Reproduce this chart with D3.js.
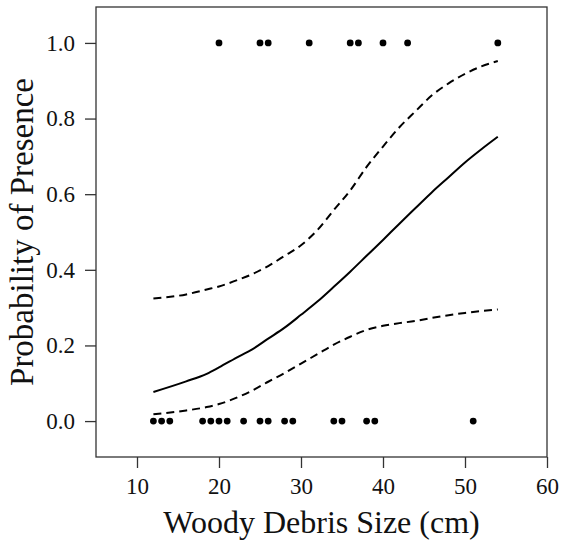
<!DOCTYPE html>
<html>
<head>
<meta charset="utf-8">
<script src="https://cdn.jsdelivr.net/npm/d3@7"></script>
<style>
  body { margin: 0; background: #fff; }
  svg text { font-family: "Liberation Serif", "Times New Roman", serif; fill: #111; }
</style>
</head>
<body>
<div id="chart"></div>
<script>
// observed presence (1) / absence (0) by debris size
var presentSize = [20, 25, 26, 31, 36, 37, 40, 43, 54];
var absentSize = [12, 13, 14, 18, 19, 20, 21, 23, 25, 26, 28, 29, 34, 35, 38, 39, 51];

// fitted curve and confidence band
var curveSize = [12, 16, 18.5, 20, 22.5, 24, 26, 28, 30, 32, 34, 36, 38, 40, 42, 44, 46, 48, 50, 52, 54];
var fitProb   = [0.077, 0.105, 0.125, 0.142, 0.172, 0.189, 0.218, 0.247, 0.281, 0.316, 0.355, 0.395, 0.437, 0.479, 0.522, 0.564, 0.606, 0.645, 0.684, 0.719, 0.752];
var upperProb = [0.324, 0.335, 0.348, 0.356, 0.375, 0.388, 0.410, 0.437, 0.465, 0.505, 0.558, 0.610, 0.672, 0.726, 0.777, 0.820, 0.862, 0.893, 0.918, 0.938, 0.952];
var lowerProb = [0.018, 0.028, 0.037, 0.045, 0.065, 0.080, 0.104, 0.127, 0.152, 0.177, 0.202, 0.223, 0.241, 0.252, 0.259, 0.265, 0.273, 0.280, 0.286, 0.291, 0.295];

var xTicks = [10, 20, 30, 40, 50, 60];
var yTicks = [0, 0.2, 0.4, 0.6, 0.8, 1.0];

var svgWidth = 561;
var svgHeight = 542;
var margin = { top: 7, right: 14, bottom: 85, left: 96 };
var width = svgWidth - margin.left - margin.right;
var height = svgHeight - margin.top - margin.bottom;

var svg = d3.select("#chart")
  .append("svg")
  .attr("width", svgWidth)
  .attr("height", svgHeight);

var chartGroup = svg.append("g")
  .attr("transform", `translate(${margin.left}, ${margin.top})`);

var xScale = d3.scaleLinear().domain([5, 60]).range([0, width]);
var yScale = d3.scaleLinear().domain([-0.095, 1.095]).range([height, 0]);

// axes
var bottomAxis = d3.axisBottom(xScale).tickValues(xTicks).tickSize(11).tickPadding(10)
  .tickFormat(d3.format("d"));
var leftAxis = d3.axisLeft(yScale).tickValues(yTicks).tickSize(11).tickPadding(10)
  .tickFormat(d3.format(".1f"));

var xAxisG = chartGroup.append("g")
  .attr("transform", `translate(0, ${height})`)
  .call(bottomAxis);
var yAxisG = chartGroup.append("g").call(leftAxis);

[xAxisG, yAxisG].forEach(function(g) {
  g.select(".domain").remove();
  g.selectAll("line").attr("stroke", "#333").attr("stroke-width", 1.3);
  g.selectAll("text").attr("font-size", "23px").attr("fill", "#111");
});

// box
chartGroup.append("rect")
  .attr("width", width)
  .attr("height", height)
  .attr("fill", "none")
  .attr("stroke", "#333")
  .attr("stroke-width", 1.3);

// curves
function lineFor(vals) {
  return d3.line()
    .x((d, i) => xScale(curveSize[i]))
    .y(d => yScale(d))
    .curve(d3.curveMonotoneX)(vals);
}

chartGroup.append("path")
  .attr("d", lineFor(fitProb))
  .attr("fill", "none")
  .attr("stroke", "#000")
  .attr("stroke-width", 2);

[upperProb, lowerProb].forEach(function(vals) {
  chartGroup.append("path")
    .attr("d", lineFor(vals))
    .attr("fill", "none")
    .attr("stroke", "#000")
    .attr("stroke-width", 2)
    .attr("stroke-dasharray", "8,5");
});

// points
chartGroup.selectAll(".pres")
  .data(presentSize)
  .enter()
  .append("circle")
  .attr("cx", d => xScale(d))
  .attr("cy", yScale(1))
  .attr("r", 3.4)
  .attr("fill", "#000");

chartGroup.selectAll(".abs")
  .data(absentSize)
  .enter()
  .append("circle")
  .attr("cx", d => xScale(d))
  .attr("cy", yScale(0))
  .attr("r", 3.4)
  .attr("fill", "#000");

// axis titles
svg.append("text")
  .attr("x", margin.left + width / 2)
  .attr("y", 533)
  .attr("text-anchor", "middle")
  .attr("font-size", "32px")
  .text("Woody Debris Size (cm)");

svg.append("text")
  .attr("transform", `translate(33, ${margin.top + height / 2}) rotate(-90)`)
  .attr("text-anchor", "middle")
  .attr("font-size", "33px")
  .text("Probability of Presence");
</script>
</body>
</html>
